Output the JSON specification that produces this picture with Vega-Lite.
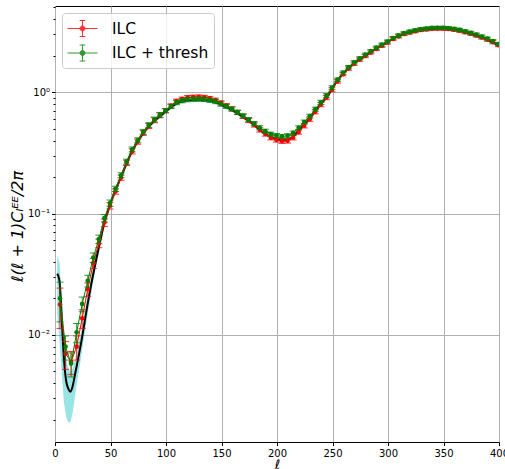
{
  "$schema": "https://vega.github.io/schema/vega-lite/v6.json",
  "width": 444,
  "height": 436,
  "autosize": {"type": "none"},
  "padding": {"left": 55, "top": 6, "right": 6, "bottom": 27},
  "background": "white",
  "config": {
    "font": "DejaVu Sans",
    "view": {"stroke": "#000000", "strokeWidth": 1},
    "legend": {
      "orient": "top-left",
      "offset": 7,
      "padding": 5,
      "fillColor": "rgba(255,255,255,0.8)",
      "strokeColor": "#cccccc",
      "cornerRadius": 3,
      "labelFontSize": 15.5,
      "labelFont": "DejaVu Sans",
      "labelColor": "#000000",
      "labelOffset": 24,
      "symbolSize": 400,
      "symbolStrokeWidth": 1,
      "symbolType": "M-1,0L2,0M0.5,-0.8L0.5,0.8M0.22,-0.8L0.78,-0.8M0.22,0.8L0.78,0.8M0.75,0A0.25,0.25,0,1,1,0.25,0A0.25,0.25,0,1,1,0.75,0Z",
      "rowPadding": 3.5,
      "title": null
    }
  },
  "datasets": {
    "theory": [
      {"l": 2, "t": 0.032, "lo": 0.015, "hi": 0.045},
      {"l": 4, "t": 0.028, "lo": 0.009, "hi": 0.040},
      {"l": 6, "t": 0.014, "lo": 0.005, "hi": 0.022},
      {"l": 8, "t": 0.0065, "lo": 0.0028, "hi": 0.010},
      {"l": 10, "t": 0.0042, "lo": 0.0021, "hi": 0.0064},
      {"l": 12, "t": 0.0036, "lo": 0.0019, "hi": 0.0053},
      {"l": 14, "t": 0.0034, "lo": 0.0019, "hi": 0.0049},
      {"l": 16, "t": 0.0038, "lo": 0.0023, "hi": 0.0053},
      {"l": 18, "t": 0.0047, "lo": 0.0031, "hi": 0.0063},
      {"l": 20, "t": 0.0058, "lo": 0.0041, "hi": 0.0075},
      {"l": 24, "t": 0.0091, "lo": 0.0070, "hi": 0.0112},
      {"l": 29, "t": 0.0171, "lo": 0.0140, "hi": 0.0202},
      {"l": 34, "t": 0.0303, "lo": 0.0260, "hi": 0.0346},
      {"l": 39, "t": 0.0502, "lo": 0.0445, "hi": 0.056},
      {"l": 44, "t": 0.0807, "lo": 0.073, "hi": 0.088},
      {"l": 49, "t": 0.114, "lo": 0.105, "hi": 0.123},
      {"l": 54, "t": 0.152, "lo": 0.142, "hi": 0.162},
      {"l": 60, "t": 0.205, "lo": 0.193, "hi": 0.217},
      {"l": 66, "t": 0.28, "lo": 0.265, "hi": 0.295},
      {"l": 72, "t": 0.36, "lo": 0.342, "hi": 0.378},
      {"l": 81, "t": 0.48, "lo": 0.459, "hi": 0.501},
      {"l": 90, "t": 0.585, "lo": 0.562, "hi": 0.608},
      {"l": 99, "t": 0.685, "lo": 0.659, "hi": 0.711},
      {"l": 106, "t": 0.77, "lo": 0.742, "hi": 0.798},
      {"l": 112, "t": 0.83, "lo": 0.80, "hi": 0.86},
      {"l": 121, "t": 0.865, "lo": 0.835, "hi": 0.895},
      {"l": 130, "t": 0.87, "lo": 0.84, "hi": 0.90},
      {"l": 142, "t": 0.845, "lo": 0.815, "hi": 0.875},
      {"l": 151, "t": 0.78, "lo": 0.752, "hi": 0.808},
      {"l": 160, "t": 0.71, "lo": 0.685, "hi": 0.735},
      {"l": 169, "t": 0.63, "lo": 0.607, "hi": 0.653},
      {"l": 178, "t": 0.55, "lo": 0.530, "hi": 0.570},
      {"l": 187, "t": 0.47, "lo": 0.452, "hi": 0.488},
      {"l": 196, "t": 0.42, "lo": 0.403, "hi": 0.437},
      {"l": 205, "t": 0.40, "lo": 0.384, "hi": 0.416},
      {"l": 212, "t": 0.415, "lo": 0.398, "hi": 0.432},
      {"l": 220, "t": 0.49, "lo": 0.471, "hi": 0.509},
      {"l": 229, "t": 0.60, "lo": 0.578, "hi": 0.622},
      {"l": 238, "t": 0.77, "lo": 0.743, "hi": 0.797},
      {"l": 246, "t": 0.94, "lo": 0.908, "hi": 0.972},
      {"l": 253, "t": 1.2, "lo": 1.16, "hi": 1.24},
      {"l": 262, "t": 1.5, "lo": 1.45, "hi": 1.55},
      {"l": 271, "t": 1.77, "lo": 1.715, "hi": 1.825},
      {"l": 280, "t": 2.0, "lo": 1.94, "hi": 2.06},
      {"l": 289, "t": 2.28, "lo": 2.215, "hi": 2.345},
      {"l": 298, "t": 2.54, "lo": 2.47, "hi": 2.61},
      {"l": 307, "t": 2.85, "lo": 2.77, "hi": 2.93},
      {"l": 315, "t": 3.04, "lo": 2.96, "hi": 3.12},
      {"l": 324, "t": 3.2, "lo": 3.12, "hi": 3.28},
      {"l": 333, "t": 3.3, "lo": 3.22, "hi": 3.38},
      {"l": 342, "t": 3.36, "lo": 3.28, "hi": 3.44},
      {"l": 351, "t": 3.36, "lo": 3.28, "hi": 3.44},
      {"l": 360, "t": 3.29, "lo": 3.21, "hi": 3.37},
      {"l": 369, "t": 3.14, "lo": 3.06, "hi": 3.22},
      {"l": 378, "t": 2.96, "lo": 2.89, "hi": 3.03},
      {"l": 387, "t": 2.77, "lo": 2.70, "hi": 2.84},
      {"l": 396, "t": 2.53, "lo": 2.47, "hi": 2.59},
      {"l": 400, "t": 2.44, "lo": 2.38, "hi": 2.50}
    ],
    "ilc": [
      {"l": 4.5, "v": 0.0178, "e": 0.0065, "s": "ILC"},
      {"l": 9.5, "v": 0.0070, "e": 0.0018, "s": "ILC"},
      {"l": 14.5, "v": 0.0060, "e": 0.0013, "s": "ILC"},
      {"l": 19.5, "v": 0.0080, "e": 0.0018, "s": "ILC"},
      {"l": 24.5, "v": 0.0137, "e": 0.0024, "s": "ILC"},
      {"l": 29.5, "v": 0.0238, "e": 0.0030, "s": "ILC"},
      {"l": 34.5, "v": 0.0390, "e": 0.0037, "s": "ILC"},
      {"l": 39.5, "v": 0.0570, "e": 0.0047, "s": "ILC"},
      {"l": 44.5, "v": 0.0843, "e": 0.0060, "s": "ILC"},
      {"l": 49.5, "v": 0.116, "e": 0.0070, "s": "ILC"},
      {"l": 54.5, "v": 0.152, "e": 0.0076, "s": "ILC"},
      {"l": 59.5, "v": 0.198, "e": 0.0099, "s": "ILC"},
      {"l": 64.5, "v": 0.262, "e": 0.013, "s": "ILC"},
      {"l": 69.5, "v": 0.326, "e": 0.016, "s": "ILC"},
      {"l": 74.5, "v": 0.392, "e": 0.019, "s": "ILC"},
      {"l": 79.5, "v": 0.463, "e": 0.022, "s": "ILC"},
      {"l": 84.5, "v": 0.527, "e": 0.025, "s": "ILC"},
      {"l": 89.5, "v": 0.589, "e": 0.028, "s": "ILC"},
      {"l": 94.5, "v": 0.646, "e": 0.030, "s": "ILC"},
      {"l": 99.5, "v": 0.705, "e": 0.028, "s": "ILC"},
      {"l": 104.5, "v": 0.772, "e": 0.030, "s": "ILC"},
      {"l": 109.5, "v": 0.845, "e": 0.032, "s": "ILC"},
      {"l": 114.5, "v": 0.878, "e": 0.034, "s": "ILC"},
      {"l": 119.5, "v": 0.905, "e": 0.035, "s": "ILC"},
      {"l": 124.5, "v": 0.912, "e": 0.035, "s": "ILC"},
      {"l": 129.5, "v": 0.915, "e": 0.035, "s": "ILC"},
      {"l": 134.5, "v": 0.908, "e": 0.035, "s": "ILC"},
      {"l": 139.5, "v": 0.890, "e": 0.034, "s": "ILC"},
      {"l": 144.5, "v": 0.862, "e": 0.033, "s": "ILC"},
      {"l": 149.5, "v": 0.818, "e": 0.032, "s": "ILC"},
      {"l": 154.5, "v": 0.775, "e": 0.030, "s": "ILC"},
      {"l": 159.5, "v": 0.730, "e": 0.029, "s": "ILC"},
      {"l": 164.5, "v": 0.682, "e": 0.027, "s": "ILC"},
      {"l": 169.5, "v": 0.633, "e": 0.025, "s": "ILC"},
      {"l": 174.5, "v": 0.585, "e": 0.023, "s": "ILC"},
      {"l": 179.5, "v": 0.538, "e": 0.021, "s": "ILC"},
      {"l": 184.5, "v": 0.490, "e": 0.020, "s": "ILC"},
      {"l": 189.5, "v": 0.453, "e": 0.018, "s": "ILC"},
      {"l": 194.5, "v": 0.422, "e": 0.017, "s": "ILC"},
      {"l": 199.5, "v": 0.405, "e": 0.017, "s": "ILC"},
      {"l": 204.5, "v": 0.396, "e": 0.017, "s": "ILC"},
      {"l": 209.5, "v": 0.398, "e": 0.017, "s": "ILC"},
      {"l": 214.5, "v": 0.422, "e": 0.017, "s": "ILC"},
      {"l": 219.5, "v": 0.470, "e": 0.019, "s": "ILC"},
      {"l": 224.5, "v": 0.530, "e": 0.022, "s": "ILC"},
      {"l": 229.5, "v": 0.600, "e": 0.024, "s": "ILC"},
      {"l": 234.5, "v": 0.692, "e": 0.028, "s": "ILC"},
      {"l": 239.5, "v": 0.792, "e": 0.032, "s": "ILC"},
      {"l": 244.5, "v": 0.905, "e": 0.036, "s": "ILC"},
      {"l": 249.5, "v": 1.05, "e": 0.04, "s": "ILC"},
      {"l": 254.5, "v": 1.23, "e": 0.04, "s": "ILC"},
      {"l": 259.5, "v": 1.41, "e": 0.045, "s": "ILC"},
      {"l": 264.5, "v": 1.57, "e": 0.05, "s": "ILC"},
      {"l": 269.5, "v": 1.72, "e": 0.055, "s": "ILC"},
      {"l": 274.5, "v": 1.86, "e": 0.056, "s": "ILC"},
      {"l": 279.5, "v": 1.99, "e": 0.06, "s": "ILC"},
      {"l": 284.5, "v": 2.13, "e": 0.065, "s": "ILC"},
      {"l": 289.5, "v": 2.28, "e": 0.07, "s": "ILC"},
      {"l": 294.5, "v": 2.42, "e": 0.073, "s": "ILC"},
      {"l": 299.5, "v": 2.57, "e": 0.077, "s": "ILC"},
      {"l": 304.5, "v": 2.75, "e": 0.083, "s": "ILC"},
      {"l": 309.5, "v": 2.89, "e": 0.087, "s": "ILC"},
      {"l": 314.5, "v": 3.02, "e": 0.09, "s": "ILC"},
      {"l": 319.5, "v": 3.11, "e": 0.094, "s": "ILC"},
      {"l": 324.5, "v": 3.19, "e": 0.096, "s": "ILC"},
      {"l": 329.5, "v": 3.26, "e": 0.098, "s": "ILC"},
      {"l": 334.5, "v": 3.30, "e": 0.1, "s": "ILC"},
      {"l": 339.5, "v": 3.34, "e": 0.1, "s": "ILC"},
      {"l": 344.5, "v": 3.35, "e": 0.1, "s": "ILC"},
      {"l": 349.5, "v": 3.35, "e": 0.1, "s": "ILC"},
      {"l": 354.5, "v": 3.33, "e": 0.1, "s": "ILC"},
      {"l": 359.5, "v": 3.28, "e": 0.1, "s": "ILC"},
      {"l": 364.5, "v": 3.22, "e": 0.097, "s": "ILC"},
      {"l": 369.5, "v": 3.13, "e": 0.094, "s": "ILC"},
      {"l": 374.5, "v": 3.04, "e": 0.091, "s": "ILC"},
      {"l": 379.5, "v": 2.94, "e": 0.088, "s": "ILC"},
      {"l": 384.5, "v": 2.83, "e": 0.085, "s": "ILC"},
      {"l": 389.5, "v": 2.72, "e": 0.082, "s": "ILC"},
      {"l": 394.5, "v": 2.59, "e": 0.078, "s": "ILC"},
      {"l": 399.5, "v": 2.45, "e": 0.074, "s": "ILC"}
    ],
    "thresh": [
      {"l": 4.5, "v": 0.020, "e": 0.0072, "s": "ILC + thresh"},
      {"l": 9.5, "v": 0.0080, "e": 0.0018, "s": "ILC + thresh"},
      {"l": 14.5, "v": 0.0058, "e": 0.0013, "s": "ILC + thresh"},
      {"l": 19.5, "v": 0.0105, "e": 0.0019, "s": "ILC + thresh"},
      {"l": 24.5, "v": 0.0180, "e": 0.0025, "s": "ILC + thresh"},
      {"l": 29.5, "v": 0.0279, "e": 0.0031, "s": "ILC + thresh"},
      {"l": 34.5, "v": 0.0434, "e": 0.0039, "s": "ILC + thresh"},
      {"l": 39.5, "v": 0.0615, "e": 0.0049, "s": "ILC + thresh"},
      {"l": 44.5, "v": 0.0917, "e": 0.0064, "s": "ILC + thresh"},
      {"l": 49.5, "v": 0.122, "e": 0.0073, "s": "ILC + thresh"},
      {"l": 54.5, "v": 0.160, "e": 0.008, "s": "ILC + thresh"},
      {"l": 59.5, "v": 0.207, "e": 0.010, "s": "ILC + thresh"},
      {"l": 64.5, "v": 0.268, "e": 0.013, "s": "ILC + thresh"},
      {"l": 69.5, "v": 0.338, "e": 0.016, "s": "ILC + thresh"},
      {"l": 74.5, "v": 0.402, "e": 0.019, "s": "ILC + thresh"},
      {"l": 79.5, "v": 0.472, "e": 0.022, "s": "ILC + thresh"},
      {"l": 84.5, "v": 0.536, "e": 0.025, "s": "ILC + thresh"},
      {"l": 89.5, "v": 0.596, "e": 0.028, "s": "ILC + thresh"},
      {"l": 94.5, "v": 0.652, "e": 0.030, "s": "ILC + thresh"},
      {"l": 99.5, "v": 0.707, "e": 0.028, "s": "ILC + thresh"},
      {"l": 104.5, "v": 0.765, "e": 0.030, "s": "ILC + thresh"},
      {"l": 109.5, "v": 0.822, "e": 0.032, "s": "ILC + thresh"},
      {"l": 114.5, "v": 0.853, "e": 0.034, "s": "ILC + thresh"},
      {"l": 119.5, "v": 0.870, "e": 0.035, "s": "ILC + thresh"},
      {"l": 124.5, "v": 0.876, "e": 0.035, "s": "ILC + thresh"},
      {"l": 129.5, "v": 0.879, "e": 0.035, "s": "ILC + thresh"},
      {"l": 134.5, "v": 0.874, "e": 0.035, "s": "ILC + thresh"},
      {"l": 139.5, "v": 0.860, "e": 0.034, "s": "ILC + thresh"},
      {"l": 144.5, "v": 0.838, "e": 0.033, "s": "ILC + thresh"},
      {"l": 149.5, "v": 0.800, "e": 0.032, "s": "ILC + thresh"},
      {"l": 154.5, "v": 0.766, "e": 0.030, "s": "ILC + thresh"},
      {"l": 159.5, "v": 0.728, "e": 0.029, "s": "ILC + thresh"},
      {"l": 164.5, "v": 0.685, "e": 0.027, "s": "ILC + thresh"},
      {"l": 169.5, "v": 0.640, "e": 0.025, "s": "ILC + thresh"},
      {"l": 174.5, "v": 0.596, "e": 0.023, "s": "ILC + thresh"},
      {"l": 179.5, "v": 0.552, "e": 0.021, "s": "ILC + thresh"},
      {"l": 184.5, "v": 0.510, "e": 0.020, "s": "ILC + thresh"},
      {"l": 189.5, "v": 0.478, "e": 0.018, "s": "ILC + thresh"},
      {"l": 194.5, "v": 0.452, "e": 0.017, "s": "ILC + thresh"},
      {"l": 199.5, "v": 0.440, "e": 0.017, "s": "ILC + thresh"},
      {"l": 204.5, "v": 0.432, "e": 0.017, "s": "ILC + thresh"},
      {"l": 209.5, "v": 0.438, "e": 0.017, "s": "ILC + thresh"},
      {"l": 214.5, "v": 0.462, "e": 0.017, "s": "ILC + thresh"},
      {"l": 219.5, "v": 0.510, "e": 0.019, "s": "ILC + thresh"},
      {"l": 224.5, "v": 0.568, "e": 0.022, "s": "ILC + thresh"},
      {"l": 229.5, "v": 0.635, "e": 0.024, "s": "ILC + thresh"},
      {"l": 234.5, "v": 0.725, "e": 0.028, "s": "ILC + thresh"},
      {"l": 239.5, "v": 0.826, "e": 0.032, "s": "ILC + thresh"},
      {"l": 244.5, "v": 0.938, "e": 0.036, "s": "ILC + thresh"},
      {"l": 249.5, "v": 1.09, "e": 0.04, "s": "ILC + thresh"},
      {"l": 254.5, "v": 1.27, "e": 0.04, "s": "ILC + thresh"},
      {"l": 259.5, "v": 1.45, "e": 0.045, "s": "ILC + thresh"},
      {"l": 264.5, "v": 1.61, "e": 0.05, "s": "ILC + thresh"},
      {"l": 269.5, "v": 1.765, "e": 0.055, "s": "ILC + thresh"},
      {"l": 274.5, "v": 1.905, "e": 0.056, "s": "ILC + thresh"},
      {"l": 279.5, "v": 2.04, "e": 0.06, "s": "ILC + thresh"},
      {"l": 284.5, "v": 2.18, "e": 0.065, "s": "ILC + thresh"},
      {"l": 289.5, "v": 2.33, "e": 0.07, "s": "ILC + thresh"},
      {"l": 294.5, "v": 2.47, "e": 0.073, "s": "ILC + thresh"},
      {"l": 299.5, "v": 2.62, "e": 0.077, "s": "ILC + thresh"},
      {"l": 304.5, "v": 2.80, "e": 0.083, "s": "ILC + thresh"},
      {"l": 309.5, "v": 2.94, "e": 0.087, "s": "ILC + thresh"},
      {"l": 314.5, "v": 3.07, "e": 0.09, "s": "ILC + thresh"},
      {"l": 319.5, "v": 3.16, "e": 0.094, "s": "ILC + thresh"},
      {"l": 324.5, "v": 3.24, "e": 0.096, "s": "ILC + thresh"},
      {"l": 329.5, "v": 3.31, "e": 0.098, "s": "ILC + thresh"},
      {"l": 334.5, "v": 3.35, "e": 0.1, "s": "ILC + thresh"},
      {"l": 339.5, "v": 3.39, "e": 0.1, "s": "ILC + thresh"},
      {"l": 344.5, "v": 3.40, "e": 0.1, "s": "ILC + thresh"},
      {"l": 349.5, "v": 3.40, "e": 0.1, "s": "ILC + thresh"},
      {"l": 354.5, "v": 3.38, "e": 0.1, "s": "ILC + thresh"},
      {"l": 359.5, "v": 3.33, "e": 0.1, "s": "ILC + thresh"},
      {"l": 364.5, "v": 3.27, "e": 0.097, "s": "ILC + thresh"},
      {"l": 369.5, "v": 3.18, "e": 0.094, "s": "ILC + thresh"},
      {"l": 374.5, "v": 3.09, "e": 0.091, "s": "ILC + thresh"},
      {"l": 379.5, "v": 2.99, "e": 0.088, "s": "ILC + thresh"},
      {"l": 384.5, "v": 2.88, "e": 0.085, "s": "ILC + thresh"},
      {"l": 389.5, "v": 2.77, "e": 0.082, "s": "ILC + thresh"},
      {"l": 394.5, "v": 2.64, "e": 0.078, "s": "ILC + thresh"},
      {"l": 399.5, "v": 2.50, "e": 0.074, "s": "ILC + thresh"}
    ]
  },
  "encoding": {
    "x": {
      "field": "l",
      "type": "quantitative",
      "scale": {"domain": [0, 400], "nice": false, "zero": false},
      "axis": {
        "values": [0, 50, 100, 150, 200, 250, 300, 350, 400],
        "grid": true,
        "gridColor": "#b0b0b0",
        "gridWidth": 1,
        "domain": false,
        "tickColor": "#000000",
        "tickSize": 3.5,
        "labelFontSize": 10,
        "labelColor": "#000000",
        "labelPadding": 2.5,
        "labelFlush": false,
        "title": "ℓ",
        "titleFontSize": 13,
        "titleFontStyle": "italic",
        "titleFontWeight": "normal",
        "titleColor": "#000000",
        "titleBaseline": "alphabetic",
        "titleY": 26
      }
    }
  },
  "layer": [
    {
      "data": {"name": "theory"},
      "mark": {"type": "area", "color": "#00bfbf", "opacity": 0.4, "clip": true},
      "encoding": {
        "y": {
          "field": "lo",
          "type": "quantitative",
          "title": "ℓ(ℓ + 1)Cₗᴱᴱ/2π",
          "scale": {"type": "log", "domain": [0.001309, 5.14], "nice": false},
          "axis": {
            "values": [0.002, 0.003, 0.004, 0.005, 0.006, 0.007, 0.008, 0.009, 0.01, 0.02, 0.03, 0.04, 0.05, 0.06, 0.07, 0.08, 0.09, 0.1, 0.2, 0.3, 0.4, 0.5, 0.6, 0.7, 0.8, 0.9, 1, 2, 3, 4, 5],
            "labelExpr": "datum.value == 1 ? '10⁰' : datum.value == 0.1 ? '10⁻¹' : datum.value == 0.01 ? '10⁻²' : ''",
            "grid": true,
            "gridColor": "#b0b0b0",
            "gridWidth": 1,
            "gridOpacity": {"condition": {"test": "datum.value == 1 || datum.value == 0.1 || datum.value == 0.01", "value": 1}, "value": 0},
            "tickSize": {"condition": {"test": "datum.value == 1 || datum.value == 0.1 || datum.value == 0.01", "value": 3.5}, "value": 2},
            "tickColor": "#000000",
            "domain": false,
            "labelFontSize": 10,
            "labelColor": "#000000",
            "labelPadding": 2,
            "labelFlush": false,
            "labelOverlap": false,
            "titleFontSize": 16,
            "titleFontStyle": "italic",
            "titleFontWeight": "normal",
            "titleColor": "#000000",
            "titleAngle": 270,
            "titleAlign": "center",
            "titleBaseline": "middle",
            "titleX": -38,
            "titleY": 220
          }
        },
        "y2": {"field": "hi"}
      }
    },
    {
      "data": {"name": "theory"},
      "mark": {"type": "line", "color": "#000000", "strokeWidth": 2, "interpolate": "monotone", "clip": true},
      "encoding": {"y": {"field": "t", "type": "quantitative", "title": "ℓ(ℓ + 1)Cₗᴱᴱ/2π"}}
    },
    {
      "data": {"name": "ilc"},
      "mark": {"type": "errorbar", "ticks": {"size": 7}, "opacity": 0.8, "clip": true},
      "encoding": {
        "y": {"field": "v", "type": "quantitative", "title": "ℓ(ℓ + 1)Cₗᴱᴱ/2π"},
        "yError": {"field": "e"},
        "color": {"field": "s", "type": "nominal", "scale": {"domain": ["ILC", "ILC + thresh"], "range": ["#ff0000", "#008000"]}}
      }
    },
    {
      "data": {"name": "ilc"},
      "mark": {"type": "line", "strokeWidth": 1, "clip": true},
      "encoding": {
        "y": {"field": "v", "type": "quantitative", "title": "ℓ(ℓ + 1)Cₗᴱᴱ/2π"},
        "color": {"field": "s", "type": "nominal"}
      }
    },
    {
      "data": {"name": "ilc"},
      "mark": {"type": "point", "filled": true, "size": 22, "opacity": 1, "clip": true},
      "encoding": {
        "y": {"field": "v", "type": "quantitative", "title": "ℓ(ℓ + 1)Cₗᴱᴱ/2π"},
        "color": {
          "field": "s",
          "type": "nominal",
          "legend": {
            "encode": {
              "symbols": {
                "update": {
                  "fill": {"scale": "color", "field": "value"},
                  "stroke": {"scale": "color", "field": "value"},
                  "strokeWidth": {"value": 1},
                  "opacity": {"value": 1}
                }
              }
            }
          }
        }
      }
    },
    {
      "data": {"name": "thresh"},
      "mark": {"type": "errorbar", "ticks": {"size": 7}, "opacity": 0.8, "clip": true},
      "encoding": {
        "y": {"field": "v", "type": "quantitative", "title": "ℓ(ℓ + 1)Cₗᴱᴱ/2π"},
        "yError": {"field": "e"},
        "color": {"field": "s", "type": "nominal"}
      }
    },
    {
      "data": {"name": "thresh"},
      "mark": {"type": "line", "strokeWidth": 1, "clip": true},
      "encoding": {
        "y": {"field": "v", "type": "quantitative", "title": "ℓ(ℓ + 1)Cₗᴱᴱ/2π"},
        "color": {"field": "s", "type": "nominal"}
      }
    },
    {
      "data": {"name": "thresh"},
      "mark": {"type": "point", "filled": true, "size": 22, "opacity": 1, "clip": true},
      "encoding": {
        "y": {"field": "v", "type": "quantitative", "title": "ℓ(ℓ + 1)Cₗᴱᴱ/2π"},
        "color": {"field": "s", "type": "nominal"}
      }
    }
  ]
}
